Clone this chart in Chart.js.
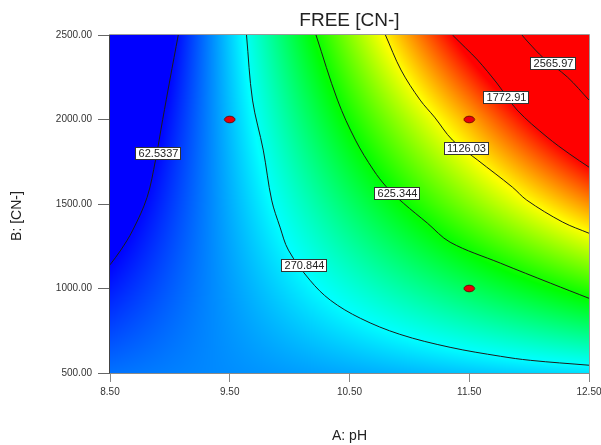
<!DOCTYPE html>
<html>
<head>
<meta charset="utf-8">
<script src="https://cdn.jsdelivr.net/npm/chart.js@4.4.1/dist/chart.umd.min.js"></script>
<style>
  html, body { margin: 0; padding: 0; background: #fff; }
</style>
</head>
<body>
<canvas id="myChart" width="601" height="445"></canvas>
<script>
// axis ticks
const xTicks = [8.5, 9.5, 10.5, 11.5, 12.5]
const xTickLabels = ['8.50', '9.50', '10.50', '11.50', '12.50']
const yTicks = [500, 1000, 1500, 2000, 2500]
const yTickLabels = ['500.00', '1000.00', '1500.00', '2000.00', '2500.00']

// free [CN-] at grid nodes (rows = CN, cols = pH)
const gridPH = [8.5, 9.5, 10.5, 11.5, 12.5]
const gridCN = [500, 1000, 1500, 2000, 2500]
const gridFree = [
    [137, 160, 184, 211, 239],
    [77, 173, 308, 482, 694],
    [34, 188, 464, 864, 1388],
    [9, 203, 652, 1320, 2318],
    [0, 218, 872, 1962, 3487],
]

// contour levels and the colour at each of the first five
const levels = [62.5337, 270.844, 625.344, 1126.03, 1772.91, 2565.97]
const levelColors = [[0, 0, 255], [0, 255, 255], [0, 255, 0], [255, 255, 0], [255, 0, 0]]

// contour lines, [pH, CN]
const contour62 = [[9.07, 2500], [9.00, 2234], [8.94, 2000], [8.88, 1760], [8.81, 1540], [8.69, 1345], [8.59, 1227], [8.50, 1140]]
const contour270 = [[9.64, 2500], [9.69, 2115], [9.78, 1819], [9.85, 1523], [9.92, 1363], [9.99, 1227], [10.17, 1049], [10.34, 931], [10.59, 824], [10.92, 729], [11.34, 652], [11.76, 599], [12.01, 575], [12.50, 546]]
const contour625 = [[10.22, 2500], [10.40, 2115], [10.55, 1878], [10.70, 1701], [10.81, 1600], [10.95, 1505], [11.15, 1387], [11.34, 1274], [11.76, 1150], [12.18, 1031], [12.50, 942]]
const contour1126 = [[10.80, 2500], [10.93, 2293], [11.09, 2115], [11.21, 2014], [11.36, 1878], [11.57, 1760], [11.86, 1600], [11.98, 1523], [12.28, 1393], [12.50, 1327]]
const contour1773 = [[11.36, 2500], [11.47, 2423], [11.57, 2352], [11.73, 2216], [11.90, 2056], [12.15, 1896], [12.34, 1795], [12.50, 1718]]
const contour2566 = [[11.94, 2500], [11.99, 2459], [12.12, 2364], [12.32, 2251], [12.50, 2115]]

// where each level's label sits on its line
const labelPH = [8.90, 10.12, 10.90, 11.47, 11.81, 12.20]
const labelCN = [1801, 1141, 1564, 1834, 2133, 2334]

// design points
const designPH = [9.5, 11.5, 11.5]
const designCN = [2000, 2000, 1000]

Chart.defaults.font.family = '"Liberation Sans", Arial, sans-serif'

function findCell(arr, v) {
    let i = 0
    while (i < arr.length - 2 && v > arr[i + 1]) i++
    let t = (v - arr[i]) / (arr[i + 1] - arr[i])
    return [i, Math.max(0, Math.min(1, t))]
}

// interpolate on the square-root scale
function sqrtAt(ph, cn) {
    const [i, t] = findCell(gridPH, ph)
    const [j, u] = findCell(gridCN, cn)
    const s00 = Math.sqrt(gridFree[j][i]), s10 = Math.sqrt(gridFree[j][i + 1])
    const s01 = Math.sqrt(gridFree[j + 1][i]), s11 = Math.sqrt(gridFree[j + 1][i + 1])
    return s00 * (1 - t) * (1 - u) + s10 * t * (1 - u) + s01 * (1 - t) * u + s11 * t * u
}

const stops = levelColors.map((c, k) => Math.sqrt(levels[k]))

function colorFor(s) {
    if (s <= stops[0]) return levelColors[0]
    for (let k = 0; k < stops.length - 1; k++) {
        if (s <= stops[k + 1]) {
            const f = (s - stops[k]) / (stops[k + 1] - stops[k])
            const a = levelColors[k], b = levelColors[k + 1]
            return [a[0] + (b[0] - a[0]) * f, a[1] + (b[1] - a[1]) * f, a[2] + (b[2] - a[2]) * f]
        }
    }
    return levelColors[levelColors.length - 1]
}

const heatmap = {
    id: 'heatmap',
    beforeDatasetsDraw(chart) {
        const { ctx, chartArea, scales } = chart
        const left = Math.round(chartArea.left), top = Math.round(chartArea.top)
        const w = Math.round(chartArea.right) - left, h = Math.round(chartArea.bottom) - top
        const img = ctx.createImageData(w, h)
        for (let py = 0; py < h; py++) {
            const cn = scales.y.getValueForPixel(top + py + 0.5)
            for (let px = 0; px < w; px++) {
                const ph = scales.x.getValueForPixel(left + px + 0.5)
                const c = colorFor(sqrtAt(ph, cn))
                const o = (py * w + px) * 4
                img.data[o] = c[0]
                img.data[o + 1] = c[1]
                img.data[o + 2] = c[2]
                img.data[o + 3] = 255
            }
        }
        ctx.putImageData(img, left, top)
    },
    afterDatasetsDraw(chart) {
        const { ctx, chartArea, scales } = chart
        const l = Math.round(chartArea.left), r = Math.round(chartArea.right)
        const t = Math.round(chartArea.top), b = Math.round(chartArea.bottom)
        ctx.save()
        ctx.lineWidth = 1
        ctx.strokeStyle = '#9a9a9a'
        ctx.beginPath()
        ctx.moveTo(l, t - 0.5); ctx.lineTo(r + 0.5, t - 0.5); ctx.lineTo(r + 0.5, b + 0.5)
        ctx.stroke()
        ctx.strokeStyle = '#8a8a8a'
        ctx.beginPath()
        ctx.moveTo(l - 0.5, b + 0.5); ctx.lineTo(r + 0.5, b + 0.5)
        ctx.stroke()
        ctx.strokeStyle = '#444'
        ctx.beginPath()
        ctx.moveTo(l - 0.5, t - 0.5); ctx.lineTo(l - 0.5, b + 0.5)
        ctx.stroke()

        // contour labels
        ctx.font = '11px "Liberation Sans", Arial, sans-serif'
        ctx.textAlign = 'center'
        ctx.textBaseline = 'middle'
        levels.forEach((lv, k) => {
            const x = Math.round(scales.x.getPixelForValue(labelPH[k]))
            const y = Math.round(scales.y.getPixelForValue(labelCN[k]))
            const text = lv.toPrecision(6)
            const bw = Math.round(ctx.measureText(text).width) + 5, bh = 12
            const bx = x - Math.round(bw / 2), by = y - Math.round(bh / 2)
            ctx.fillStyle = '#fff'
            ctx.fillRect(bx, by, bw, bh)
            ctx.strokeStyle = '#333'
            ctx.strokeRect(bx + 0.5, by + 0.5, bw, bh)
            ctx.fillStyle = '#222'
            ctx.fillText(text, x + 0.5, y + 1)
        })
        ctx.restore()
    },
    afterDraw(chart) {
        const { ctx, chartArea } = chart
        ctx.save()
        ctx.fillStyle = '#222'
        ctx.textAlign = 'center'
        ctx.textBaseline = 'middle'
        ctx.font = '19px "Liberation Sans", Arial, sans-serif'
        ctx.fillText('FREE [CN-]', (chartArea.left + chartArea.right) / 2, 21)
        ctx.translate(17, 216)
        ctx.rotate(-Math.PI / 2)
        ctx.font = '14px "Liberation Sans", Arial, sans-serif'
        ctx.fillText('B: [CN-]', 0, 0)
        ctx.restore()
    }
}

const dot = document.createElement('canvas')
dot.width = 13
dot.height = 9
const dctx = dot.getContext('2d')
dctx.beginPath()
dctx.ellipse(6.5, 4.5, 5.2, 3.3, 0, 0, 2 * Math.PI)
dctx.fillStyle = '#e8000a'
dctx.fill()
dctx.strokeStyle = '#6e0000'
dctx.lineWidth = 1
dctx.stroke()

const toPoints = arr => arr.map(([x, y]) => ({ x, y }))
const contourSet = data => ({
    data: toPoints(data),
    showLine: true,
    borderColor: '#1c1c1c',
    borderWidth: 1,
    pointRadius: 0,
    tension: 0.35,
    fill: false,
})

const el = document.getElementById('myChart')
const myChart = new Chart(el, {
    type: 'scatter',
    data: {
        datasets: [
            contourSet(contour62),
            contourSet(contour270),
            contourSet(contour625),
            contourSet(contour1126),
            contourSet(contour1773),
            contourSet(contour2566),
            {
                data: designPH.map((x, i) => ({ x, y: designCN[i] })),
                pointStyle: dot,
                pointRadius: 5,
            },
        ]
    },
    options: {
        responsive: false,
        animation: false,
        layout: { padding: { top: 35, right: 12, left: 0, bottom: 0 } },
        plugins: {
            legend: { display: false },
            tooltip: { enabled: false },
        },
        scales: {
            x: {
                type: 'linear',
                min: 8.5,
                max: 12.5,
                afterBuildTicks: s => { s.ticks = xTicks.map(v => ({ value: v })) },
                afterFit: s => {
                    s.height = 72
                    s.paddingLeft = 0
                    s.paddingRight = 0
                },
                border: { display: false },
                grid: { drawOnChartArea: false, tickLength: 9, tickColor: '#888' },
                ticks: {
                    autoSkip: false,
                    maxRotation: 0,
                    padding: 4,
                    color: '#333',
                    font: { size: 10 },
                    callback: (v, i) => xTickLabels[i],
                },
                title: {
                    display: true,
                    text: 'A: pH',
                    color: '#222',
                    font: { size: 14 },
                    padding: { top: 0, bottom: 0 },
                },
            },
            y: {
                type: 'linear',
                min: 500,
                max: 2500,
                afterBuildTicks: s => { s.ticks = yTicks.map(v => ({ value: v })) },
                afterFit: s => {
                    s.width = 110
                    s.paddingTop = 0
                    s.paddingBottom = 0
                },
                border: { display: false },
                grid: { drawOnChartArea: false, tickLength: 12, tickColor: '#666' },
                ticks: {
                    autoSkip: false,
                    padding: 6,
                    color: '#333',
                    font: { size: 10 },
                    callback: (v, i) => yTickLabels[i],
                },
            },
        },
    },
    plugins: [heatmap],
})
</script>
</body>
</html>
